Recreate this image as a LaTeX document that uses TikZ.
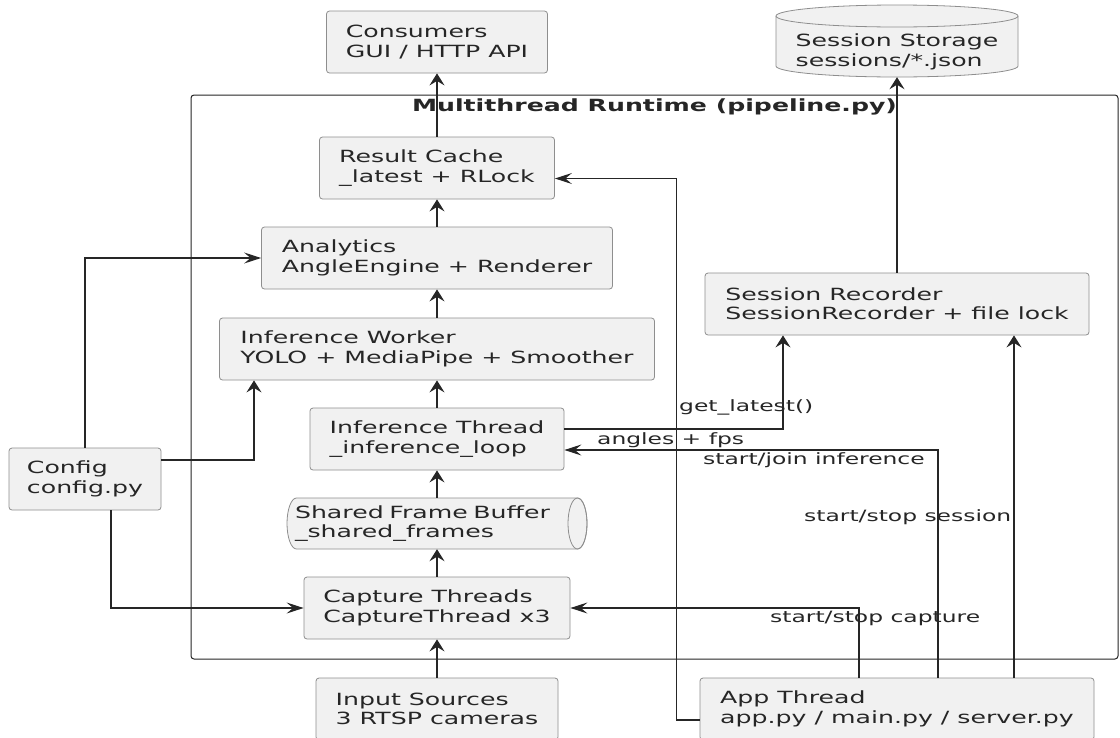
\documentclass[tikz,border=0pt]{standalone}
\usepackage{fontspec}
\setmainfont{DejaVu Sans}[FakeStretch=1.5]
\usetikzlibrary{arrows.meta,calc}
\definecolor{boxfill}{HTML}{F1F1F1}
\definecolor{boxline}{HTML}{8E8E8E}
\definecolor{ink}{HTML}{262626}
\newcommand\nodefont{\fontsize{16.8}{19.3}\selectfont}
\newcommand\labelfont{\fontsize{15.6}{18}\selectfont}
\newcommand\titlefont{\fontsize{16.8}{19.3}\selectfont\bfseries}

\begin{document}
\begin{tikzpicture}[x=1pt,y=-1pt,
  box/.style={draw=boxline, fill=boxfill, line width=0.8pt, rounded corners=3pt,
    align=left, inner sep=0pt, minimum height=62pt, font=\nodefont, text=ink},
  % the drawing is wider than tall, so tips differ for vertical and horizontal ends
  connv/.style={draw=ink, line width=1.2pt, -{Stealth[length=12pt,width=15pt,inset=4.5pt]}},
  connh/.style={draw=ink, line width=1.2pt, -{Stealth[length=17pt,width=11pt,inset=6.5pt]}},
  outline/.style={draw=boxline, line width=0.8pt},
  elabel/.style={font=\labelfont, inner sep=0pt, anchor=west, text=ink}]

% page
\useasboundingbox[fill=white] (0,0) rectangle (1120,737);

% runtime container
\node[draw=ink, line width=1pt, rounded corners=3pt, minimum width=927pt,
      minimum height=564pt, inner sep=0pt] (runtime) at (654.5,377) {};
\node[font=\titlefont, text=ink, inner sep=0pt] (runtimetitle) at (654.5,107)
  {Multithread Runtime (pipeline.py)};

% session storage (vertical cylinder)
\path[fill=boxfill] (776,16) -- (776,66)
  arc[start angle=180, end angle=360, x radius=121pt, y radius=11pt] -- (1018,16)
  arc[start angle=0, end angle=180, x radius=121pt, y radius=11pt] -- cycle;
\draw[outline] (776,16) -- (776,66)
  arc[start angle=180, end angle=360, x radius=121pt, y radius=11pt] -- (1018,16);
\draw[outline] (897,16) ellipse[x radius=121pt, y radius=11pt];
\node[font=\nodefont, text=ink, align=left, minimum width=242pt, minimum height=50pt,
      inner sep=0pt] (storage) at (897,52) {Session Storage\\sessions/*.json};

% shared frame buffer (horizontal cylinder)
\path[fill=boxfill] (296.5,498) -- (577.5,498)
  arc[start angle=90, end angle=-90, x radius=9.5pt, y radius=25.5pt] -- (296.5,549)
  arc[start angle=270, end angle=90, x radius=9.5pt, y radius=25.5pt] -- cycle;
\draw[outline] (296.5,498) -- (577.5,498)
  arc[start angle=90, end angle=-90, x radius=9.5pt, y radius=25.5pt] -- (296.5,549)
  arc[start angle=270, end angle=90, x radius=9.5pt, y radius=25.5pt] -- cycle;
\draw[outline] (577.5,523.5) ellipse[x radius=9.5pt, y radius=25.5pt];
\node[font=\nodefont, text=ink, align=left, text width=284pt, inner xsep=8pt,
      inner ysep=0pt, minimum height=51pt] (buffer) at (437,523.5)
  {Shared Frame Buffer\\\_shared\_frames};

% boxes
\node[box, minimum width=221pt] (consumers) at (437,42) {Consumers\\GUI / HTTP API};
\node[box, minimum width=235pt] (result) at (437,168) {Result Cache\\\_latest + RLock};
\node[box, minimum width=351pt] (analytics) at (437,258) {Analytics\\AngleEngine + Renderer};
\node[box, minimum width=435pt] (worker) at (437,349) {Inference Worker\\YOLO + MediaPipe + Smoother};
\node[box, minimum width=254pt] (ithread) at (437,439) {Inference Thread\\\_inference\_loop};
\node[box, minimum width=266pt] (capture) at (437,608) {Capture Threads\\CaptureThread x3};
\node[box, minimum width=242pt] (input) at (437,709) {Input Sources\\3 RTSP cameras};
\node[box, minimum width=152pt] (config) at (85,479) {Config\\config.py};
\node[box, minimum width=384pt] (recorder) at (897,304) {Session Recorder\\SessionRecorder + file lock};
\node[box, minimum width=394pt] (app) at (897,709) {App Thread\\app.py / main.py / server.py};

% main pipeline
\draw[connv] (result.north) -- (consumers.south);
\draw[connv] (analytics.north) -- (result.south);
\draw[connv] (worker.north) -- (analytics.south);
\draw[connv] (ithread.north) -- (worker.south);
\draw[connv] (buffer.north) -- (ithread.south);
\draw[connv] (capture.north) -- (buffer.south);
\draw[connv] (input.north) -- (capture.south);

% configuration
\draw[connh] (config.north) |- (analytics.west);
\draw[connv] ([yshift=19pt]config.east) -| ([xshift=-183pt]worker.south);
\draw[connh] ([xshift=26pt]config.south) |- (capture.west);

% session recording
\draw[connv] (recorder.north) -- (storage.south);
\draw[connv] ([yshift=10pt]ithread.east) -| ([xshift=-114pt]recorder.south);

% app thread control
\draw[connh] ([yshift=-11pt]app.west) -- ++(-23pt,0pt) |- ([yshift=-10.5pt]result.east);
\draw[connh] ([xshift=41pt]app.north) |- ([yshift=-11pt]ithread.east);
\draw[connh] ([xshift=-38pt]app.north) |- (capture.east);
\draw[connv] ([xshift=117pt]app.north) -- ([xshift=117pt]recorder.south);

% edge labels
\node[elabel] (lblget) at (679,407) {get\_latest()};
\node[elabel] (lblangles) at (597,440) {angles + fps};
\node[elabel] (lbljoin) at (703,460) {start/join inference};
\node[elabel] (lblsession) at (804,517) {start/stop session};
\node[elabel] (lblcapture) at (770,618) {start/stop capture};
\end{tikzpicture}
\end{document}
